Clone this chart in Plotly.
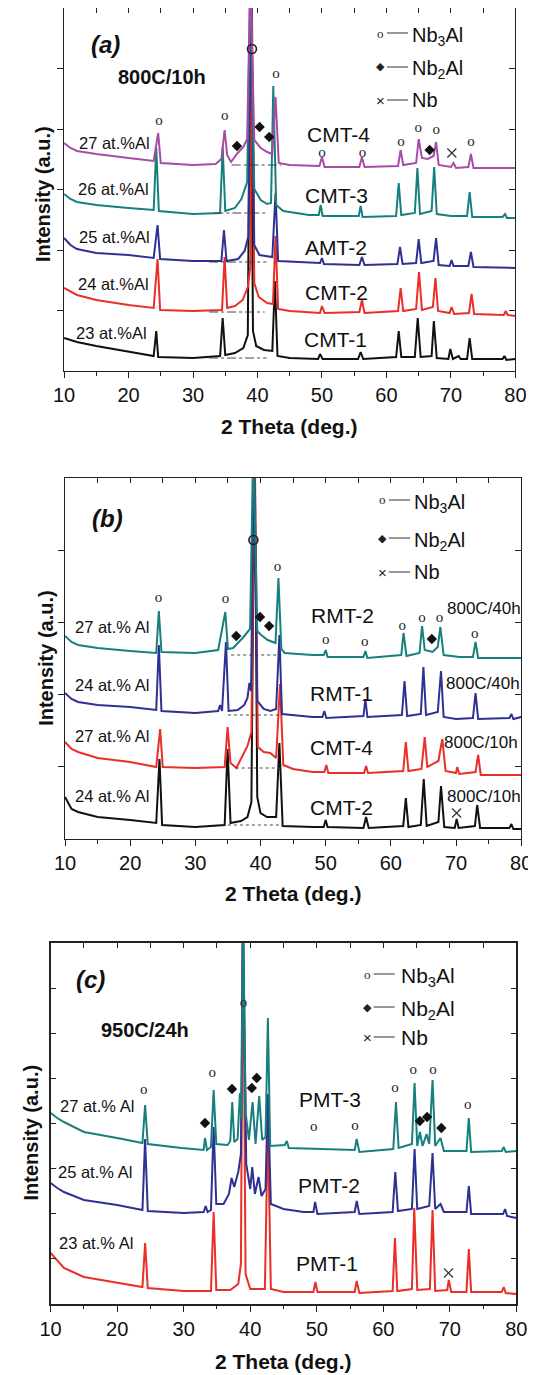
import plotly.graph_objects as go
import numpy as np

# The page body keeps its default 8px margin; the figure is offset by it and runs to the window edges.
OX, OY = 8, 8
FW, FH = 536 - OX, 1375 - OY
def PX(x): return (x - OX) / FW
def PY(y): return 1 - (y - OY) / FH

FONT = "Liberation Sans, Arial, sans-serif"
SERIF = "Liberation Serif, Times New Roman, serif"
C_BLACK, C_RED, C_BLUE, C_TEAL, C_MAG = '#111111', '#EA2E28', '#2E3192', '#17807E', '#A64CA6'

# ---------------- data (2theta, intensity a.u. with stacking offset) ----------------
# Panel (a) 800C/10h
a_cmt1 = [(10,33),(12,29),(15,25),(20,19),(23.9,15),(24.3,40),(24.6,14),(30,13),(34.2,15),(34.6,53),(35.0,16),(36.5,18),(37.8,23),(38.5,36),(38.9,400),(39.3,40),(39.8,25),(41,21),(42.3,20),(42.7,90),(43.1,15),(45,13),(49.4,12),(49.7,17),(50.1,12),(55.6,12),(56.0,19),(56.4,12),(61.5,14),(61.9,40),(62.3,14),(64.4,14),(64.85,53),(65.3,14),(67.0,15),(67.35,50),(67.8,13),(69.6,12),(69.9,22),(70.3,12),(71.2,15),(71.5,12),(72.5,12),(72.9,33),(73.3,12),(78,12),(78.3,15),(78.6,11),(80,12)]
a_cmt2 = [(10,83),(12,76),(15,71),(20,66),(23.9,63),(24.5,112),(24.9,61),(30,60),(34.5,61),(34.9,114),(35.3,63),(36.5,65),(37.7,71),(38.5,84),(38.9,105),(39.1,400),(39.5,88),(40.2,74),(41.5,68),(42.4,67),(42.8,135),(43.2,62),(45,60),(49.7,58),(50.0,65),(50.4,58),(55.8,59),(56.2,71),(56.6,58),(61.8,60),(62.2,83),(62.6,60),(64.6,62),(65.05,99),(65.5,61),(67.2,64),(67.6,93),(68.0,60),(69.8,58),(70.1,64),(70.5,57),(72.8,58),(73.2,77),(73.6,57),(78.2,56),(78.5,60),(78.8,56),(80,55)]
a_amt2 = [(10,133),(11,126),(12,122),(15,118),(20,116),(23.9,113),(24.5,146),(24.9,112),(30,110),(34.4,110),(34.8,141),(35.2,110),(37,112),(38,120),(38.6,135),(39.0,400),(39.5,126),(40.3,116),(42.3,114),(42.8,178),(43.2,110),(48,108),(49.7,108),(50.0,113),(50.3,107),(55.8,106),(56.2,114),(56.6,106),(61.7,107),(62.1,124),(62.5,107),(64.6,108),(65.0,132),(65.4,108),(67.3,110),(67.7,133),(68.1,106),(69.8,105),(70.1,111),(70.4,105),(72.7,105),(73.1,119),(73.5,104),(80,103)]
a_cmt3 = [(10,177),(11,172),(12,169),(15,166),(20,163),(23.9,161),(24.3,223),(24.7,160),(30,157),(34.2,158),(34.6,224),(35.0,160),(36.5,163),(37.5,172),(38.4,189),(38.9,400),(39.5,182),(40.5,171),(41.5,167),(42.1,168),(42.45,285),(42.9,166),(44,160),(48,156),(49.5,156),(49.8,166),(50.1,155),(55.7,155),(56.0,165),(56.3,154),(61.5,155),(61.9,188),(62.3,156),(64.4,158),(64.8,203),(65.2,157),(67.0,160),(67.4,204),(67.8,157),(70,155),(72.5,155),(72.9,179),(73.3,154),(78.0,154),(78.4,157),(78.7,153),(80,153)]
a_cmt4 = [(10,228),(11,223),(12,220),(15,217),(20,213),(23.9,210),(24.6,238),(25.0,208),(30,206),(33.5,207),(34.4,212),(34.9,241),(35.3,216),(35.9,209),(36.8,217),(37.8,224),(38.4,232),(38.9,400),(39.5,231),(40.5,223),(41.5,219),(42.3,217),(42.8,274),(43.3,208),(45,206),(49.6,205),(50.0,214),(50.4,204),(55.8,204),(56.2,214),(56.6,204),(61.8,205),(62.2,221),(62.6,206),(64.6,208),(65.0,232),(65.5,213),(66.4,212),(67.3,215),(67.7,229),(68.1,206),(70.0,204),(70.4,208),(70.8,203),(72.7,204),(73.1,217),(73.5,203),(80,203)]
a_hump = [((36.0,43.7),206),((33.3,41.4),158),((32.5,41.4),109),((32.5,41.1),59),((32.5,41.4),13)]
a_nb3al_x = [24.72, 34.93, 42.86, 50.0, 56.28, 62.26, 64.92, 67.73, 73.1]
a_nb3al_y = [250, 255, 297, 218, 218, 229, 243, 241, 229]
a_main_x, a_main_y = [39.14], [322]
a_nb2al_x = [36.82, 40.33, 41.82, 66.7]
a_nb2al_y = [225, 244, 234, 221]
a_nb_x, a_nb_y = [70.14], [218]

# Panel (b)
b_cmt2 = [(10,42),(11,30),(12,27),(15,22),(20,19),(24.0,16),(24.5,80),(24.9,14),(30,12),(34.5,14),(34.95,90),(35.4,16),(37,18),(38,22),(38.6,37),(39.1,400),(39.5,42),(40,26),(41,22),(42.4,22),(42.9,96),(43.4,13),(48,12),(49.7,12),(50.0,19),(50.3,12),(55.8,11),(56.2,22),(56.6,11),(61.9,13),(62.3,41),(62.7,12),(64.6,14),(65.05,60),(65.5,13),(67.3,17),(67.7,53),(68.2,12),(69.8,11),(70.1,20),(70.4,11),(72.9,13),(73.25,34),(73.7,11),(78.2,11),(78.5,15),(78.8,10),(80,10)]
b_cmt4 = [(10,97),(11,90),(12,87),(15,81),(20,77),(24.0,72),(24.6,110),(25.0,72),(30,71),(34.5,72),(34.95,112),(35.4,76),(36.3,71),(37.0,80),(38.0,93),(38.6,107),(39.1,400),(39.6,92),(40.5,87),(41.5,86),(42.4,81),(43.0,155),(43.5,74),(45,70),(48,67),(49.8,67),(50.1,74),(50.4,66),(55.9,66),(56.2,73),(56.5,66),(61.9,68),(62.3,97),(62.7,68),(64.7,70),(65.2,102),(65.6,72),(67.3,78),(67.9,100),(68.4,68),(70.0,66),(70.2,72),(70.5,65),(73.0,67),(73.4,84),(73.8,64),(80,64)]
b_rmt1 = [(10,146),(11,140),(12,137),(15,134),(20,132),(24.0,129),(24.4,194),(24.8,128),(30,126),(33.5,128),(33.8,134),(34.1,128),(34.7,197),(35.1,128),(36.5,129),(37.5,134),(38.0,141),(38.3,156),(38.55,148),(39.0,400),(39.5,138),(40.5,130),(41.5,128),(42.4,130),(42.9,204),(43.3,125),(48,122),(49.5,122),(49.8,128),(50.1,121),(55.8,123),(56.1,140),(56.4,122),(61.7,124),(62.1,158),(62.5,123),(64.6,125),(65.0,172),(65.4,124),(67.2,127),(67.7,168),(68.1,122),(70,120),(72.6,121),(73.0,146),(73.4,120),(78.2,121),(78.5,125),(78.8,120),(80,122)]
b_rmt2 = [(10,203),(11,197),(12,194),(15,191),(20,188),(24.0,186),(24.4,228),(24.8,187),(30,186),(33.5,189),(34.6,227),(35.0,190),(35.8,191),(36.6,196),(37.4,202),(38.4,210),(38.9,400),(39.5,208),(40.1,204),(41.1,199),(42.3,196),(42.75,261),(43.2,190),(43.7,186),(48,184),(49.7,184),(50.0,189),(50.3,182),(55.8,182),(56.1,188),(56.4,181),(61.6,184),(61.95,206),(62.4,183),(64.4,186),(64.8,213),(65.2,189),(66.4,187),(67.2,192),(67.6,212),(68.1,184),(70.5,182),(72.6,182),(73.0,197),(73.4,181),(80,181)]
b_hump = [((35.0,43.5),14),((36.2,43.1),71),((35.0,43.0),124),((35.5,43.2),184)]
b_nb3al_x = [24.35, 34.62, 42.6, 50.03, 55.99, 61.75, 64.78, 67.46, 72.87]
b_nb3al_y = [241, 240, 272, 199, 197, 213, 221, 221, 205]
b_main_x, b_main_y = [38.91], [299]
b_nb2al_x = [36.28, 39.93, 41.32, 66.29]
b_nb2al_y = [203, 222, 213, 200]
b_nb_x, b_nb_y = [70.09], [26]

# Panel (c) 950C/24h
c_pmt1 = [(10,51),(11,43),(12,36),(15,27),(20,21),(23.8,17),(24.2,61),(24.6,16),(30,13),(34.1,13),(34.5,92),(34.9,14),(37,14),(38.2,20),(38.6,40),(38.9,400),(39.3,30),(40,15),(42.2,15),(42.65,181),(43.1,15),(45,12),(49.5,12),(49.8,22),(50.1,12),(55.7,12),(56.0,23),(56.4,11),(61.4,13),(61.75,66),(62.1,13),(64.3,15),(64.65,96),(65.1,14),(67.0,15),(67.4,94),(67.8,13),(69.6,14),(69.85,24),(70.2,12),(72.5,12),(72.85,55),(73.2,12),(77.8,12),(78.1,17),(78.4,11),(80,10)]
c_pmt2 = [(10,121),(11,116),(12,112),(15,104),(20,99),(23.8,94),(24.2,165),(24.6,93),(30,91),(33.0,92),(33.3,98),(33.6,92),(34.1,94),(34.5,177),(34.9,100),(36.0,100),(36.8,110),(37.2,126),(37.6,117),(38.2,132),(38.6,150),(38.9,400),(39.4,140),(40.0,115),(40.3,137),(40.7,110),(41.25,127),(41.7,108),(42.3,115),(42.65,210),(43.1,100),(45,95),(48,92),(49.5,92),(49.75,102),(50.1,90),(55.7,92),(56.0,103),(56.4,90),(61.4,92),(61.8,132),(62.2,93),(64.3,95),(64.7,155),(65.1,95),(66.9,98),(67.4,151),(67.8,95),(68.6,100),(69.1,92),(72.5,92),(72.85,118),(73.2,90),(78.0,90),(78.3,95),(78.6,88),(80,86)]
c_pmt3 = [(10,191),(11,186),(12,182),(15,172),(20,166),(23.8,161),(24.2,199),(24.6,160),(29.7,156),(33.0,154),(33.2,166),(33.5,154),(34.1,157),(34.5,214),(34.9,160),(36.6,159),(37.0,163),(37.3,202),(37.6,162),(38.1,165),(38.45,211),(38.7,185),(38.9,400),(39.3,192),(39.8,164),(40.35,202),(40.8,160),(41.35,208),(41.8,164),(42.3,167),(42.65,286),(43.0,158),(45.2,159),(45.5,163),(45.8,156),(50,155),(55.7,154),(56.0,165),(56.4,152),(61.5,155),(61.9,202),(62.3,156),(64.3,160),(64.7,221),(65.1,158),(65.5,172),(65.9,158),(66.5,170),(66.9,160),(67.4,224),(67.8,158),(68.6,166),(69.1,153),(72.5,153),(72.85,186),(73.2,152),(77.8,153),(78.1,157),(78.4,152),(80,153)]
c_nb3al_x = [24.0, 34.29, 39.0, 49.55, 55.73, 61.77, 64.5, 67.48, 72.68]
c_nb3al_y = [214, 231, 301, 177, 178, 216, 234, 234, 199]
c_nb2al_x = [33.2, 37.26, 40.24, 40.98, 65.49, 66.58, 68.72]
c_nb2al_y = [181, 215, 216, 226, 183, 187, 176]
c_nb_x, c_nb_y = [69.8], [31]

x_ticks = [10, 20, 30, 40, 50, 60, 70, 80]

# ---------------- figure ----------------
fig = go.Figure()

def add_line(pairs, color, xa, ya):
    xs, ys = zip(*pairs)
    fig.add_trace(go.Scatter(x=list(xs), y=list(ys), mode='lines', line=dict(color=color, width=2.0),
                             xaxis=xa, yaxis=ya, showlegend=False, hoverinfo='skip'))

def add_hump(humps, dash, xa, ya):
    for (x0, x1), yv in humps:
        fig.add_trace(go.Scatter(x=[x0, x1], y=[yv, yv], mode='lines', line=dict(color='#333', width=0.9, dash=dash),
                                 xaxis=xa, yaxis=ya, showlegend=False, hoverinfo='skip'))

def add_phase(ox, oy, dx, dy, nx, ny, xa, ya, mx=None, my=None):
    fig.add_trace(go.Scatter(x=ox, y=oy, mode='text', text=['o'] * len(ox),
                             textfont=dict(family=SERIF, size=15, color='#222'),
                             xaxis=xa, yaxis=ya, showlegend=False, hoverinfo='skip', cliponaxis=False))
    if mx:
        fig.add_trace(go.Scatter(x=mx, y=my, mode='markers',
                                 marker=dict(symbol='circle-open', size=9, color='#222', line=dict(width=1.6, color='#222')),
                                 xaxis=xa, yaxis=ya, showlegend=False, hoverinfo='skip'))
    fig.add_trace(go.Scatter(x=dx, y=dy, mode='markers', marker=dict(symbol='diamond', size=8, color='#111'),
                             xaxis=xa, yaxis=ya, showlegend=False, hoverinfo='skip'))
    fig.add_trace(go.Scatter(x=nx, y=ny, mode='markers',
                             marker=dict(symbol='x-thin', size=9, color='#333', line=dict(width=1.2, color='#333')),
                             xaxis=xa, yaxis=ya, showlegend=False, hoverinfo='skip'))

# panel a
for d, c in [(a_cmt1, C_BLACK), (a_cmt2, C_RED), (a_amt2, C_BLUE), (a_cmt3, C_TEAL), (a_cmt4, C_MAG)]:
    add_line(d, c, 'x', 'y')
add_hump(a_hump, 'dashdot', 'x', 'y')
add_phase(a_nb3al_x, a_nb3al_y, a_nb2al_x, a_nb2al_y, a_nb_x, a_nb_y, 'x', 'y', a_main_x, a_main_y)
# panel b
for d, c in [(b_cmt2, C_BLACK), (b_cmt4, C_RED), (b_rmt1, C_BLUE), (b_rmt2, C_TEAL)]:
    add_line(d, c, 'x2', 'y2')
add_hump(b_hump, 'dot', 'x2', 'y2')
add_phase(b_nb3al_x, b_nb3al_y, b_nb2al_x, b_nb2al_y, b_nb_x, b_nb_y, 'x2', 'y2', b_main_x, b_main_y)
# panel c
for d, c in [(c_pmt1, C_RED), (c_pmt2, C_BLUE), (c_pmt3, C_TEAL)]:
    add_line(d, c, 'x3', 'y3')
add_phase(c_nb3al_x, c_nb3al_y, c_nb2al_x, c_nb2al_y, c_nb_x, c_nb_y, 'x3', 'y3')

# dummy traces so the mirror (top/right) axes render
for xa, ya in [('x4', 'y'), ('x', 'y4'), ('x5', 'y2'), ('x2', 'y5'), ('x6', 'y3'), ('x3', 'y6')]:
    fig.add_trace(go.Scatter(x=[None], y=[None], xaxis=xa, yaxis=ya, showlegend=False, hoverinfo='skip'))

panels = [  # (x px domain, y px domain, y max, n y intervals, left tick dir, frame width)
    ((55, 526), (8, 371), 363.0, 6, 'outside', 1.2),
    ((56, 532), (478.3, 839), 360.7, 5, 'outside', 1.2),
    ((41, 527), (943.3, 1304), 360.7, 8, 'inside', 1.6),
]
lay = {}
for i, ((x0, x1), (y0, y1), ymax, n, ldir, lw) in enumerate(panels, start=1):
    sx = '' if i == 1 else str(i)
    yt = list(np.linspace(0, ymax, n + 1)[1:-1])
    common = dict(showgrid=False, zeroline=False, showline=True, linecolor='#222', linewidth=lw)
    yd = [max(0.0, PY(y1)), min(1.0, PY(y0))]
    xd = [max(0.0, PX(x0)), min(1.0, PX(x1))]
    lay['xaxis' + sx] = dict(domain=xd, anchor='y' + sx, range=[10, 80], tickvals=x_ticks,
                             ticks='outside', ticklen=6, tickwidth=1.2, tickcolor='#222', ticklabeloverflow='allow',
                             minor=dict(dtick=5, tick0=0, ticks='outside', ticklen=3.5, tickwidth=1.2, tickcolor='#222'),
                             tickfont=dict(family=FONT, size=20, color='#111'), **common)
    lay['yaxis' + sx] = dict(domain=yd, anchor='x' + sx, range=[0, ymax], tickvals=yt,
                             ticks=ldir, ticklen=6, tickwidth=1.2, tickcolor='#222', showticklabels=False, **common)
    lay['xaxis' + str(i + 3)] = dict(overlaying='x' + sx, side='top', anchor='y' + sx, range=[10, 80], tickvals=x_ticks,
                                     ticks='inside', ticklen=5, tickwidth=1.2, tickcolor='#222',
                                     minor=dict(dtick=5, tick0=0, ticks='inside', ticklen=5, tickwidth=1.2, tickcolor='#222'),
                                     showticklabels=False, **common)
    lay['yaxis' + str(i + 3)] = dict(overlaying='y' + sx, side='right', anchor='x' + sx, range=[0, ymax], tickvals=yt,
                                     ticks='inside', ticklen=6, tickwidth=1.2, tickcolor='#222', showticklabels=False, **common)

anns = []
def ann(text, x, y, size, bold=False, italic=False, xanchor='center', angle=0, family=FONT, color='#111'):
    t = text
    if italic: t = '<i>' + t + '</i>'
    if bold: t = '<b>' + t + '</b>'
    anns.append(dict(text=t, x=PX(x), y=PY(y), xref='paper', yref='paper', showarrow=False,
                     xanchor=xanchor, yanchor='middle', textangle=angle,
                     font=dict(family=family, size=size, color=color)))

shapes = []
def legend(xs, x0, x1, xt, ys, size):
    syms = [('o', SERIF, 13), ('\u25C6', 'DejaVu Sans', 11), ('\u00D7', FONT, 15)]
    labels = ['Nb<sub>3</sub>Al', 'Nb<sub>2</sub>Al', 'Nb']
    for (s, fam, fs), lab, yy in zip(syms, labels, ys):
        ann(s, xs, yy, fs, family=fam, color='#222')
        shapes.append(dict(type='line', xref='paper', yref='paper', x0=PX(x0), x1=PX(x1), y0=PY(yy), y1=PY(yy),
                           line=dict(color='#333', width=1)))
        ann(lab, xt, yy + (3 if 'sub' in lab else 0), size, xanchor='left')

# panel a texts
ann('(a)', 98, 44, 24, bold=True, italic=True)
ann('800C/10h', 157, 77, 20, bold=True)
legend(385, 392, 414, 416, [33, 67, 100], 20)
for t, x, y in [('CMT-4', 341, 134), ('CMT-3', 339, 195), ('AMT-2', 339, 248), ('CMT-2', 339, 292), ('CMT-1', 338, 340)]:
    ann(t, x, y, 21)
for t, x, y in [('27 at.%Al', 108, 143), ('26 at.%Al', 107, 189), ('25 at.%Al', 108, 237), ('24 at.%Al', 107, 284), ('23 at.%Al', 105, 333)]:
    ann(t, x, y, 16.5)
ann('Intensity (a.u.)', 33, 194, 20, bold=True, angle=-90)
ann('2 Theta (deg.)', 290, 427, 21, bold=True)

# panel b texts
ann('(b)', 100, 519, 24, bold=True, italic=True)
legend(387, 394, 416, 418, [500, 538, 572], 20)
for t, x, y in [('RMT-2', 346, 615), ('RMT-1', 345, 693), ('CMT-4', 344, 747), ('CMT-2', 344, 807)]:
    ann(t, x, y, 21)
for t, x, y in [('800C/40h', 493, 608), ('800C/40h', 492, 683), ('800C/10h', 490, 742), ('800C/10h', 493, 796)]:
    ann(t, x, y, 17)
for t, x, y in [('27 at.% Al', 105, 627), ('24 at.% Al', 105, 685), ('27 at.% Al', 105, 736), ('24 at.% Al', 105, 796)]:
    ann(t, x, y, 16.5)
ann('Intensity (a.u.)', 36, 658, 20, bold=True, angle=-90)
ann('2 Theta (deg.)', 294, 893, 21, bold=True)

# panel c texts
ann('(c)', 83, 979, 24, bold=True, italic=True)
ann('950C/24h', 139, 1030, 20, bold=True)
legend(372, 378, 400, 404, [974, 1007, 1037], 21)
for t, x, y in [('PMT-3', 333, 1099), ('PMT-2', 331, 1185), ('PMT-1', 329, 1263)]:
    ann(t, x, y, 21)
for t, x, y in [('27 at.% Al', 89, 1106), ('25 at.% Al', 87, 1172), ('23 at.% Al', 88, 1243)]:
    ann(t, x, y, 16.5)
ann('Intensity (a.u.)', 21, 1132, 20, bold=True, angle=-90)
ann('2 Theta (deg.)', 284, 1361, 21, bold=True)

fig.update_layout(width=FW, height=FH, margin=dict(l=0, r=0, t=0, b=0), paper_bgcolor='white',
                  plot_bgcolor='white', showlegend=False, annotations=anns, shapes=shapes, **lay)
fig.write_html('out.html')
